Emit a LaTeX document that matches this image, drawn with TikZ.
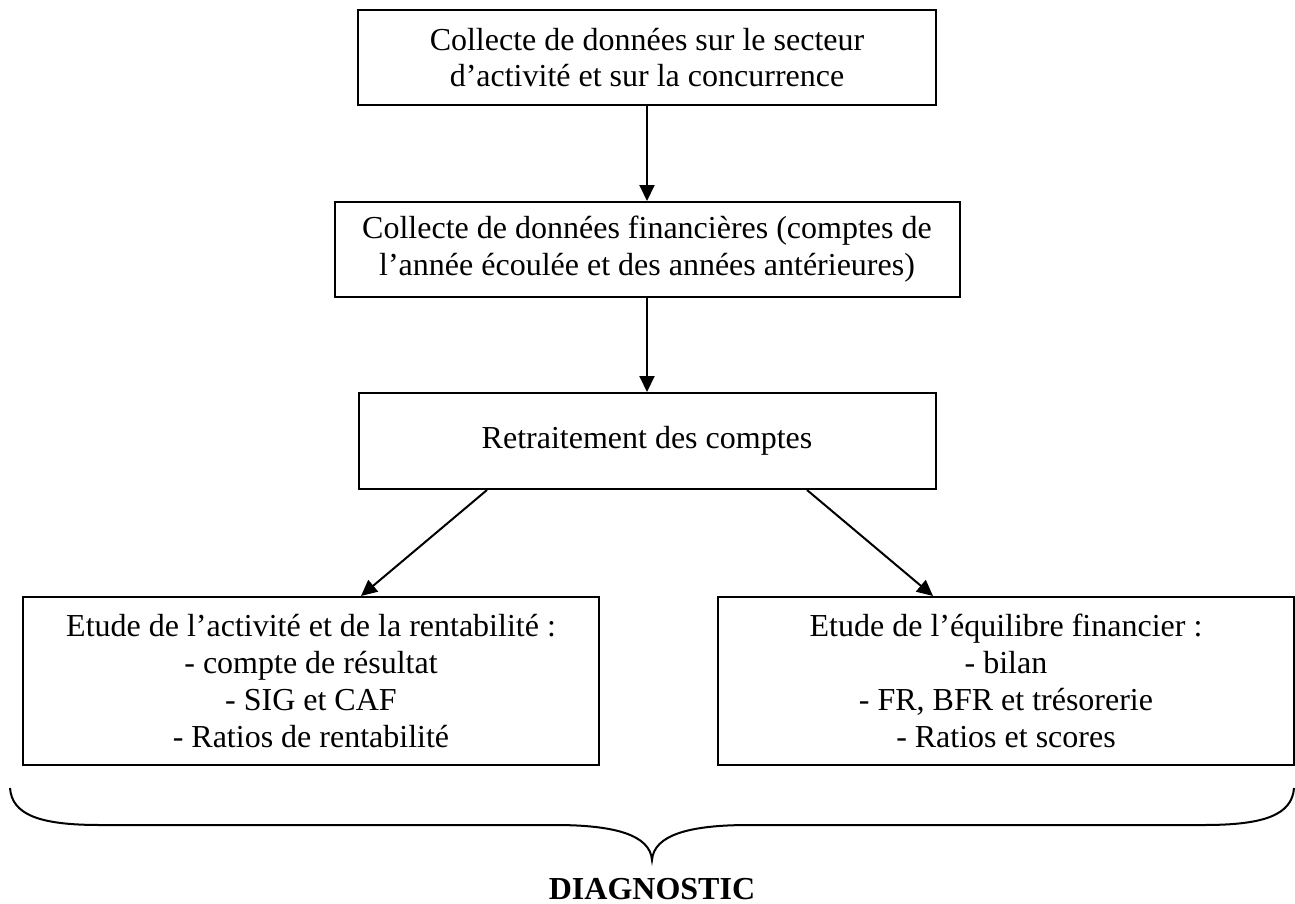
\documentclass[tikz,border=0pt]{standalone}
\usepackage{fontspec}
\setmainfont{Liberation Serif}
\usepackage{tikz}
\usetikzlibrary{arrows.meta}

\tikzset{
	etape/.style={draw, line width=1pt, inner sep=0pt, align=center,
		minimum height=47.5pt, font=\fontsize{16}{18.4}\selectfont},
	fleche/.style={line width=1pt, -{Triangle[length=8pt,width=7.5pt]}}
}

\begin{document}
\begin{tikzpicture}[x=0.5pt, y=-0.5pt]
		\useasboundingbox (0,0) rectangle (1295,904);
		\node[etape, minimum width=289pt] (secteur) at (647,57.5) {Collecte de données sur le secteur\\d’activité et sur la concurrence};
		\node[etape, minimum width=312.5pt] (financ) at (647,249.5) {Collecte de données financières (comptes de\\l’année écoulée et des années antérieures)};
		\node[etape, minimum width=288.5pt, minimum height=48pt] (retrait) at (647,441) {Retraitement des comptes};
		\node[etape, minimum width=288pt, minimum height=84pt] (rentab) at (311,681) {Etude de l’activité et de la rentabilité :\\- compte de résultat\\- SIG et CAF\\- Ratios de rentabilité};
		\node[etape, minimum width=288pt, minimum height=84pt] (equil) at (1006,681) {Etude de l’équilibre financier :\\- bilan\\- FR, BFR et trésorerie\\- Ratios et scores};
		\draw[fleche] (secteur) -- (financ);
		\draw[fleche] (financ) -- (retrait);
		\draw[fleche] ([xshift=-80pt]retrait.south) -- ([xshift=25pt]rentab.north);
		\draw[fleche] ([xshift=80pt]retrait.south) -- ([xshift=-36.5pt]equil.north);
		% accolade
		\draw[line width=1pt] (10,788) .. controls (12,815) and (40,825) .. (100,825) -- (555,825)
			.. controls (615,825) and (650,835) .. (652,860)
			.. controls (654,835) and (689,825) .. (749,825) -- (1204,825)
			.. controls (1264,825) and (1292,815) .. (1294,788);
		\node[font=\fontsize{16}{18.4}\selectfont\bfseries] (diag) at (652,889) {DIAGNOSTIC};
	\end{tikzpicture}
\end{document}
